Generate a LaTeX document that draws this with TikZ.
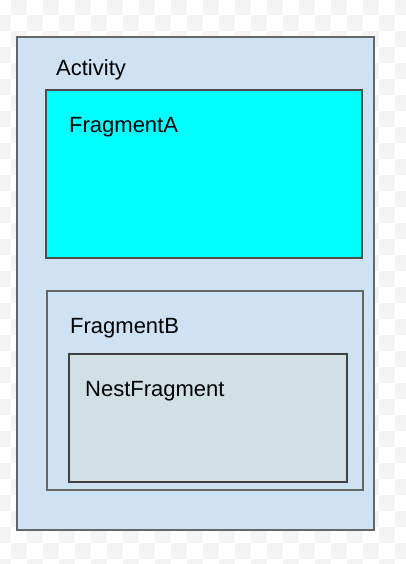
\documentclass[tikz,border=0pt]{standalone}
\usepackage{fontspec}
\setmainfont{Liberation Sans}
\usetikzlibrary{positioning}

\definecolor{actblue}{HTML}{CFE2F3}
\definecolor{fragcyan}{HTML}{00FFFF}
\definecolor{nestgray}{HTML}{D0E0E3}
\definecolor{edgegray}{HTML}{666666}
\definecolor{checker}{HTML}{F4F4F4}

\begin{document}
\begin{tikzpicture}[
    x=1pt, y=-1pt,
    box/.style={draw=edgegray, line width=1.3pt, anchor=north west,
        inner sep=0pt, outer sep=0pt},
    label/.style={anchor=base west, inner sep=0pt,
        font=\fontsize{22}{26}\selectfont},
]
\useasboundingbox (0,0) rectangle (406,564);
% transparent backdrop
\foreach \i in {0,...,25}
  \foreach \j in {0,...,36} {
    \pgfmathtruncatemacro{\odd}{mod(\i+\j,2)}
    \ifnum\odd=1
      \fill[checker] (-5+16*\i,-1+16*\j) rectangle ++(16,16);
    \fi
  }
\node[box, fill=actblue, minimum width=357pt, minimum height=493pt]
    (activity) at (17,37) {};
\node[box, fill=fragcyan, draw=black!70, minimum width=316pt, minimum height=168pt]
    (fraga) at (46,90) {};
\node[box, fill=actblue, minimum width=316pt, minimum height=199pt]
    (fragb) at (47,291) {};
\node[box, fill=nestgray, draw=black!75, minimum width=278pt, minimum height=128pt]
    (nest) at (69,354) {};
\node[label] (activitytxt) at (56,76) {Activity};
\node[label] (fragatxt) at (69,133) {FragmentA};
\node[label] (fragbtxt) at (70,333) {FragmentB};
\node[label] (nesttxt) at (85,396) {NestFragment};
\end{tikzpicture}
\end{document}
